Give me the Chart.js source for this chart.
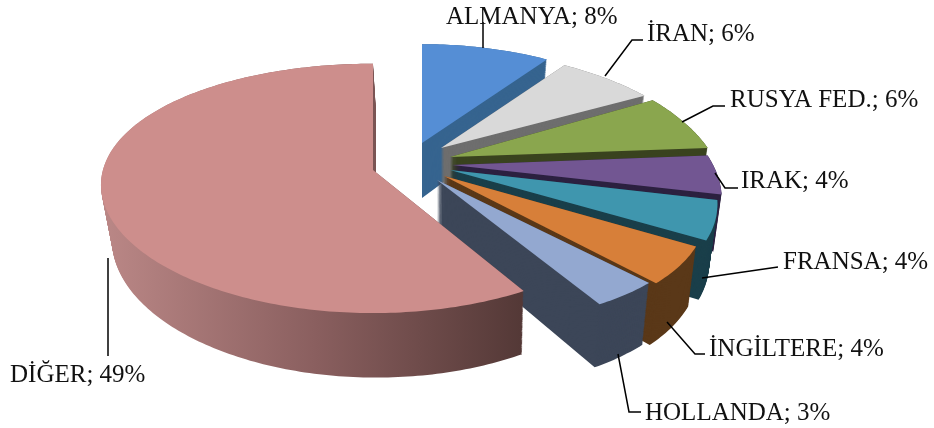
<!DOCTYPE html>
<html>
<head>
<meta charset="utf-8">
<title>Pie</title>
<script src="https://cdn.jsdelivr.net/npm/chart.js@4"></script>
<style>
html, body { margin: 0; padding: 0; background: #fff; }
canvas { display: block; }
</style>
</head>
<body>
<canvas id="pieChart" width="934" height="428"></canvas>
<script>
// chart data
const categories = ['ALMANYA', 'İRAN', 'RUSYA FED.', 'IRAK', 'FRANSA', 'İNGİLTERE', 'HOLLANDA', 'DİĞER'];
const shares = [8, 6, 6, 4, 4, 4, 3, 49];

// colours of top faces and side walls
const faceColors = ['#558ed5', '#d9d9d9', '#8aa64e', '#725692', '#3f96ae', '#d77f39', '#93a8d0', '#cd8e8c'];
const sideColors = ['#36648f', '#6e6e6e', '#3a431f', '#2c2140', '#1a3f4a', '#5a3818', '#3c4658', null];

// explosion of each slice relative to the pie centre
const explodeX = [-45, -26, -17, -15, -17, -23, -30, -94];
const explodeY = [-71, -66, -57, -49, -44, -38, -34, -44];

// stretch of the library radius per slice, and camera tilt
const stretchX = [1.25, 1.235, 1.23, 1.22, 1.21, 1.19, 1.19, 1.262];
const stretchY = [0.53, 0.525, 0.57, 0.6, 0.61, 0.61, 0.585, 0.57];
const tiltX = [0.25, 0.25, 0.25, 0.25, 0.25, 0.25, 0.25, 0.12];
const tiltY = 0.1475;
const depth = 55;
const wallShrink = 0.03;
const wallShiftX = [0, 0, 0, 0, 0, 0, 0, 3];

// label text placement and leader lines
const labelX = [446, 647, 730, 741, 783, 709, 645, 10];
const labelY = [24, 41, 107, 188, 269, 356, 420, 382];
const leaders = [
  [[483, 22], [483, 48]],
  [[605, 76], [632, 40], [643, 40]],
  [[682, 122], [713, 106], [725, 106]],
  [[715, 173], [725, 188], [738, 188]],
  [[702, 278], [778, 267]],
  [[667, 322], [695, 354], [705, 354]],
  [[618, 354], [629, 412], [641, 412]],
  [[108, 258], [108, 356]]
];

function point(el, i, angle, r, z) {
  const dx = r * Math.cos(angle);
  const dy = r * Math.sin(angle);
  const wx = 1 - tiltX[i] * dy;
  const wy = 1 - tiltY * dy;
  return {
    x: el.x + explodeX[i] + el.outerRadius * stretchX[i] * dx / wx * (1 - wallShrink * z) + wallShiftX[i] * z,
    y: el.y + explodeY[i] + (el.outerRadius * stretchY[i] * dy + depth * z) / wy
  };
}

function slicePath(ctx, el, i, z) {
  const steps = Math.ceil((el.endAngle - el.startAngle) * 60);
  const tip = point(el, i, 0, 0, z);
  ctx.beginPath();
  ctx.moveTo(tip.x, tip.y);
  for (let s = 0; s <= steps; s++) {
    const a = el.startAngle + (el.endAngle - el.startAngle) * s / steps;
    const p = point(el, i, a, 1, z);
    ctx.lineTo(p.x, p.y);
  }
  ctx.closePath();
}

const tiltedPie = {
  id: 'tiltedPie',
  beforeDatasetDraw(chart, args) {
    const ctx = chart.ctx;
    const wall = ctx.createLinearGradient(105, 0, 525, 0);
    wall.addColorStop(0, '#ba8786');
    wall.addColorStop(0.5, '#8a5f5f');
    wall.addColorStop(1, '#533836');
    args.meta.data.forEach(function (el, i) {
      ctx.fillStyle = sideColors[i] || wall;
      for (let l = depth; l >= 0; l--) {
        slicePath(ctx, el, i, l / depth);
        ctx.fill();
      }
      ctx.fillStyle = el.options.backgroundColor;
      slicePath(ctx, el, i, 0);
      ctx.fill();
    });
    return false;
  },
  afterDraw(chart) {
    const ctx = chart.ctx;
    ctx.strokeStyle = '#000';
    ctx.lineWidth = 1.5;
    leaders.forEach(function (line) {
      ctx.beginPath();
      line.forEach(function (p, k) {
        if (k === 0) ctx.moveTo(p[0], p[1]); else ctx.lineTo(p[0], p[1]);
      });
      ctx.stroke();
    });
    ctx.fillStyle = '#111';
    ctx.font = '25px "Liberation Serif"';
    ctx.textBaseline = 'alphabetic';
    categories.forEach(function (name, i) {
      ctx.fillText(name + '; ' + shares[i] + '%', labelX[i], labelY[i]);
    });
  }
};

new Chart(document.getElementById('pieChart').getContext('2d'), {
  type: 'pie',
  data: {
    labels: categories,
    datasets: [{ data: shares, backgroundColor: faceColors, borderWidth: 0 }]
  },
  options: {
    responsive: false,
    animation: false,
    rotation: 0,
    plugins: { legend: { display: false }, tooltip: { enabled: false } }
  },
  plugins: [tiltedPie]
});
</script>
</body>
</html>
